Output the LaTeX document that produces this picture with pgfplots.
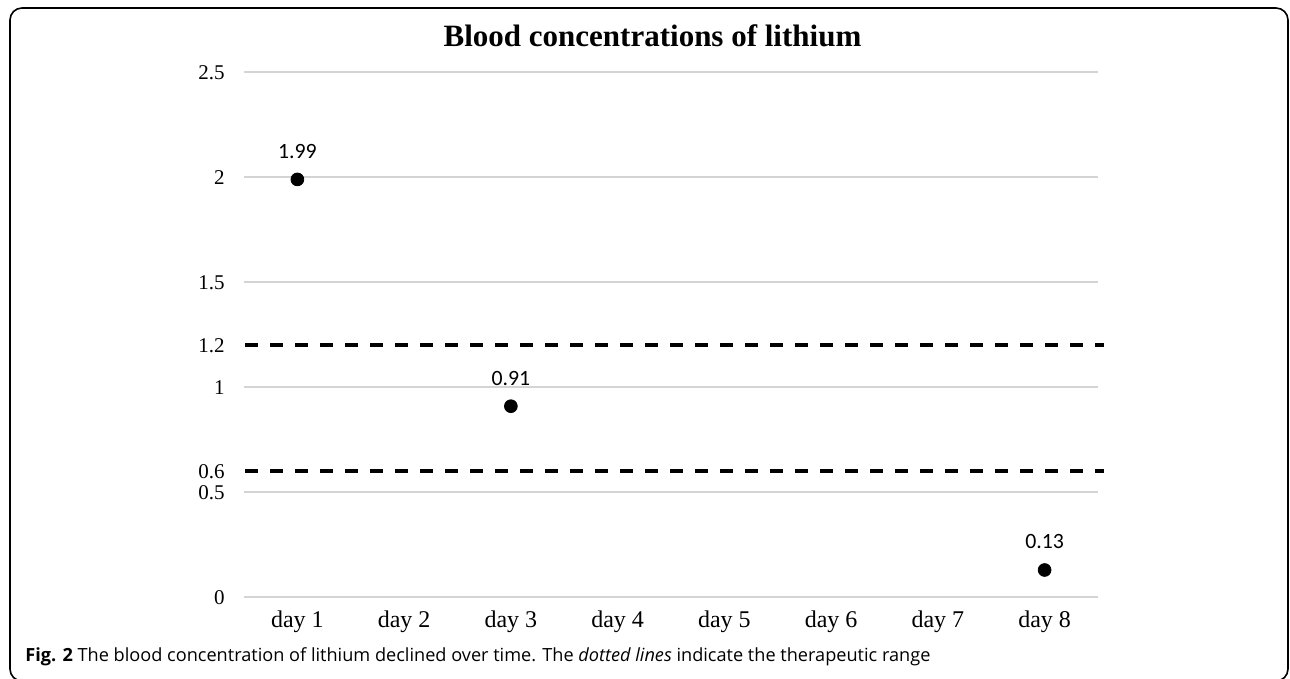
\documentclass[border=0pt]{standalone}
\usepackage{pgfplots}
\pgfplotsset{compat=1.18}
\usepackage{fontspec}
\setmainfont{Liberation Serif}
\newfontfamily\calibri{Carlito}
\newfontfamily\capfont{Open Sans}
\definecolor{gridgray}{HTML}{D4D4D4}
\begin{document}
\begin{tikzpicture}
\useasboundingbox (0,0) rectangle (645pt,339.5pt);
\begin{scope}
\clip (0,0) rectangle (645pt,339.5pt);
\draw[line width=0.8pt, rounded corners=6pt] (5pt,-1pt) rectangle (644pt,335.5pt);
\end{scope}
\node[anchor=base, inner sep=0pt, font=\bfseries\fontsize{15.5}{18}\selectfont] at (326.25pt,316.25pt) {Blood concentrations of lithium};
\node[anchor=base west, inner sep=0pt] at (12.5pt,8.5pt) {\resizebox{452.5pt}{!}{\capfont\textbf{Fig. 2} The blood concentration of lithium declined over time. The \textit{dotted lines} indicate the therapeutic range}};
\begin{axis}[
  at={(122pt,40.85pt)}, anchor=south west,
  scale only axis, width=427pt, height=262.5pt,
  xmin=0.5, xmax=8.5, ymin=0, ymax=2.5,
  axis line style={draw=none},
  major tick length=0pt,
  xtick={1,2,3,4,5,6,7,8},
  xticklabels={day 1,day 2,day 3,day 4,day 5,day 6,day 7,day 8},
  ytick={0,0.5,1,1.5,2,2.5},
  yticklabels={0,0.5,1,1.5,2,2.5},
  extra y ticks={0.6,1.2},
  extra y tick labels={0.6,1.2},
  extra y tick style={ymajorgrids=false},
  ymajorgrids,
  major grid style={gridgray, line width=0.9pt},
  /pgf/number format/assume math mode=true,
  yticklabel style={font=\fontsize{10.5}{12}\selectfont, anchor=east, inner sep=0pt, xshift=-9.5pt},
  xticklabel style={font=\fontsize{12}{14}\selectfont, anchor=base, inner sep=0pt, yshift=-15.3pt},
  clip=false,
]
\addplot[black, line width=2pt, dash pattern=on 6.5pt off 6pt] coordinates {(0.51,1.2) (8.553,1.2)};
\addplot[black, line width=2pt, dash pattern=on 6.5pt off 6pt] coordinates {(0.51,0.6) (8.553,0.6)};
\addplot[only marks, mark=*, mark size=3.2pt, black,
  nodes near coords,
  every node near coord/.append style={font=\calibri\fontsize{10.9}{12}\selectfont, anchor=base, inner sep=0pt, yshift=10.5pt},
] coordinates {(1,1.99) (3,0.91) (8,0.13)};
\end{axis}
\end{tikzpicture}
\end{document}
